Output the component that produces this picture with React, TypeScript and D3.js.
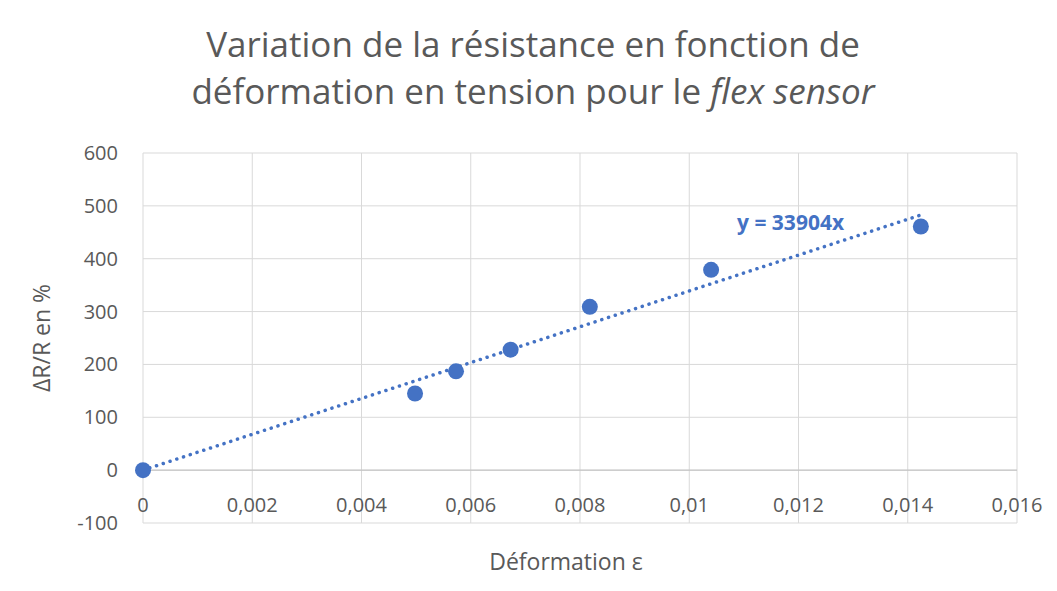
import React from 'react'
import * as d3 from 'd3'

const strainValues = [0, 0.00498, 0.00573, 0.00673, 0.00818, 0.0104, 0.01424]
const resistanceValues = [0, 145, 187, 228, 309, 379, 461]
const xTicks = [0, 0.002, 0.004, 0.006, 0.008, 0.01, 0.012, 0.014, 0.016]
const yTicks = [-100, 0, 100, 200, 300, 400, 500, 600]
const slope = 33904
const trendEnd = 0.0143

const W = 1057
const H = 591
const font = '"Open Sans", "Liberation Sans", sans-serif'
const fmt = (v: number) => String(v).replace('.', ',')

export default function App() {
  const x = d3.scaleLinear().domain([0, 0.016]).range([143, 1017])
  const y = d3.scaleLinear().domain([-100, 600]).range([523, 153])
  const blue = '#4472c4'
  return (
    <svg width={W} height={H} style={{ position: 'absolute', left: 0, top: 0 }} fontFamily={font}>
      <rect width={W} height={H} fill="#fff" />
      <text x={533} y={57} textAnchor="middle" fontSize={35} fill="#595959">Variation de la résistance en fonction de</text>
      <text x={533} y={104} textAnchor="middle" fontSize={35} fill="#595959">
        déformation en tension pour le <tspan fontStyle="italic">flex sensor</tspan>
      </text>
      {yTicks.map(t => (
        <g key={'y' + t}>
          <line x1={x(0)} x2={x(0.016)} y1={y(t)} y2={y(t)} stroke="#d9d9d9" />
          <text x={118} y={y(t) + 7} textAnchor="end" fontSize={20} fill="#595959">{t}</text>
        </g>
      ))}
      {xTicks.map(t => (
        <g key={'x' + t}>
          <line x1={x(t)} x2={x(t)} y1={y(-100)} y2={y(600)} stroke="#d9d9d9" />
          <text x={x(t)} y={y(0) + 42} textAnchor="middle" fontSize={20} fill="#595959">{fmt(t)}</text>
        </g>
      ))}
      <line x1={x(0)} x2={x(0.016)} y1={y(0)} y2={y(0)} stroke="#bfbfbf" />
      <line x1={x(0)} x2={x(trendEnd)} y1={y(0)} y2={y(slope * trendEnd)} stroke={blue} strokeWidth={3.5} strokeDasharray="0.1 7" strokeLinecap="round" />
      {strainValues.map((v, i) => (
        <circle key={i} cx={x(v)} cy={y(resistanceValues[i])} r={8} fill={blue} />
      ))}
      <text x={737} y={230} fontSize={21} fontWeight="bold" fill={blue}>y = 33904x</text>
      <text x={566} y={570} textAnchor="middle" fontSize={23} fill="#595959">Déformation ε</text>
      <text transform={`translate(50,${y(250)}) rotate(-90)`} textAnchor="middle" fontSize={23} fill="#595959">ΔR/R en %</text>
    </svg>
  )
}
